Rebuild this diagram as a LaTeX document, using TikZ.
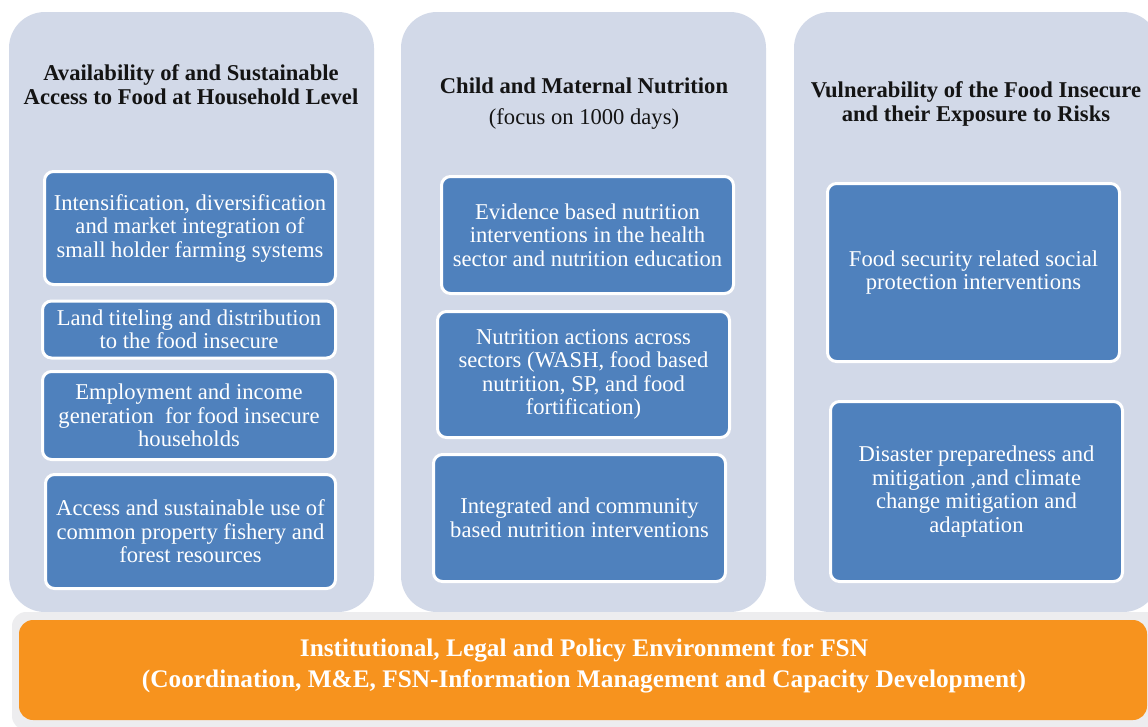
\documentclass[tikz,border=0pt]{standalone}
\usepackage{fontspec}
\setmainfont{Liberation Serif}
\definecolor{panelbg}{HTML}{D2D9E8}
\definecolor{boxblue}{HTML}{4F81BD}
\definecolor{barorange}{HTML}{F7931E}
\definecolor{framegray}{HTML}{EDEDEF}
\definecolor{titletext}{HTML}{141414}
\tikzset{
  panel/.style={fill=panelbg, draw=none, rounded corners=36pt},
  inbox/.style={fill=boxblue, draw=white, line width=3pt, rounded corners=9pt,
    text=white, align=center, inner sep=0pt,
    font=\fontsize{22.6}{23.5}\selectfont},
  ptitle/.style={align=center, text=titletext, inner sep=0pt,
    font=\fontsize{22.6}{24}\selectfont\bfseries},
}
\begin{document}
\begin{tikzpicture}[x=1pt,y=-1pt]
\useasboundingbox (0,0) rectangle (1148,726);
\clip (0,0) rectangle (1148,726);

% panels
\node[panel, minimum width=365pt, minimum height=600pt] (p1) at (191.5,312) {};
\node[panel, minimum width=365pt, minimum height=600pt] (p2) at (583.5,312) {};
\node[panel, minimum width=365pt, minimum height=600pt] (p3) at (976.5,312) {};

% titles
\node[ptitle] (t1) at (191,85) {Availability of and Sustainable\\Access to Food at Household Level};
\node[ptitle] (t2) at (584,86) {Child and Maternal Nutrition};
\node[align=center, text=titletext, inner sep=0pt, font=\fontsize{22.6}{24}\selectfont] (t2b) at (584,119) {(focus on 1000 days)};
\node[ptitle] (t3) at (976,104) {Vulnerability of the Food Insecure\\and their Exposure to Risks};

% column 1
\node[inbox, minimum width=291pt, minimum height=113pt] (a1) at (190,228) {Intensification, diversification\\and market integration of\\small holder farming systems};
\node[inbox, minimum width=293pt, minimum height=57pt] (a2) at (189,329.5) {Land titeling and distribution\\to the food insecure};
\node[inbox, minimum width=293pt, minimum height=88pt] (a3) at (189,415.5) {Employment and income\\generation\ \ for food insecure\\households};
\node[inbox, minimum width=290pt, minimum height=114pt] (a4) at (190.5,531.5) {Access and sustainable use of\\common property fishery and\\forest resources};

% column 2
\node[inbox, minimum width=292pt, minimum height=117pt] (b1) at (587.5,235) {Evidence based nutrition\\interventions in the health\\sector and nutrition education};
\node[inbox, minimum width=292pt, minimum height=126pt] (b2) at (583.5,374.5) {Nutrition actions across\\sectors (WASH, food based\\nutrition, SP, and food\\fortification)};
\node[inbox, minimum width=292pt, minimum height=127pt] (b3) at (579.5,518) {Integrated and community\\based nutrition interventions};

% column 3
\node[inbox, minimum width=292pt, minimum height=178pt] (c1) at (973.5,272.5) {Food security related social\\protection interventions};
\node[inbox, minimum width=292pt, minimum height=180pt] (c2) at (976.5,491.5) {Disaster preparedness and\\mitigation ,and climate\\change mitigation and\\adaptation};

% bottom bar
\node[fill=framegray, draw=none, rounded corners=14pt, minimum width=1150pt, minimum height=118pt] (frame) at (587,671) {};
\node[fill=barorange, draw=none, rounded corners=14pt, minimum width=1128pt, minimum height=100pt] (bar) at (583,670) {};
\node[text=white, align=center, inner sep=0pt,
  font=\fontsize{25.3}{31}\selectfont\bfseries] (bartext) at (584,666)
  {Institutional, Legal and Policy Environment for FSN\\(Coordination, M\&E, FSN-Information Management and Capacity Development)};
\end{tikzpicture}
\end{document}
